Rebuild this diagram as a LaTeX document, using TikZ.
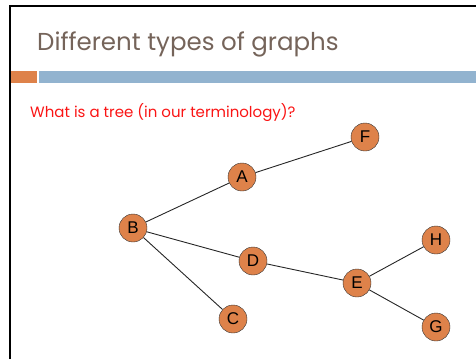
\documentclass[tikz,border=0pt]{standalone}
\usepackage{fontspec}
\setmainfont{Poppins}
\newfontfamily\nodefont{Liberation Sans}
\usepackage{xcolor}
\usepackage{tikz}
\definecolor{slidetitle}{RGB}{117,100,90}
\definecolor{treeorange}{RGB}{222,130,74}
\definecolor{barblue}{RGB}{146,179,207}
\definecolor{askred}{RGB}{250,20,20}
\tikzstyle{vertex} = [circle, draw=black!80, fill=treeorange, minimum size=28pt, inner sep=0pt, font=\nodefont\fontsize{17}{17}\selectfont]
\tikzstyle{edge} = [draw=black!85, line width=0.9pt]

\begin{document}
\begin{tikzpicture}[x=1pt, y=-1pt]
            \useasboundingbox (0,0) rectangle (476,359);
            % slide frame and header bars
            \draw[line width=2pt] (10,359) -- (10,6) -- (476,6);
            \fill[treeorange] (11,71) rectangle (37,83);
            \fill[barblue] (39,71) rectangle (476,83);
            \node[anchor=base west, inner sep=0pt, text=slidetitle, font=\fontsize{24.5}{24.5}\selectfont] (title) at (37,50) {Different types of graphs};
            \node[anchor=base west, inner sep=0pt, text=askred, font=\fontsize{15}{15}\selectfont] (ask) at (30,117) {What is a tree (in our terminology)?};

            % tree
            \node[vertex] (A) at (242,177) {A};
            \node[vertex] (F) at (365,137) {F};
            \node[vertex] (B) at (133,228) {B};
            \node[vertex] (D) at (253,261) {D};
            \node[vertex] (C) at (233,319) {C};
            \node[vertex] (E) at (357,283) {E};
            \node[vertex] (H) at (436,240) {H};
            \node[vertex] (G) at (436,327) {G};
            \draw[edge] (A) -- (F);
            \draw[edge] (A) -- (B);
            \draw[edge] (B) -- (D);
            \draw[edge] (B) -- (C);
            \draw[edge] (D) -- (E);
            \draw[edge] (E) -- (H);
            \draw[edge] (E) -- (G);
        \end{tikzpicture}
\end{document}
